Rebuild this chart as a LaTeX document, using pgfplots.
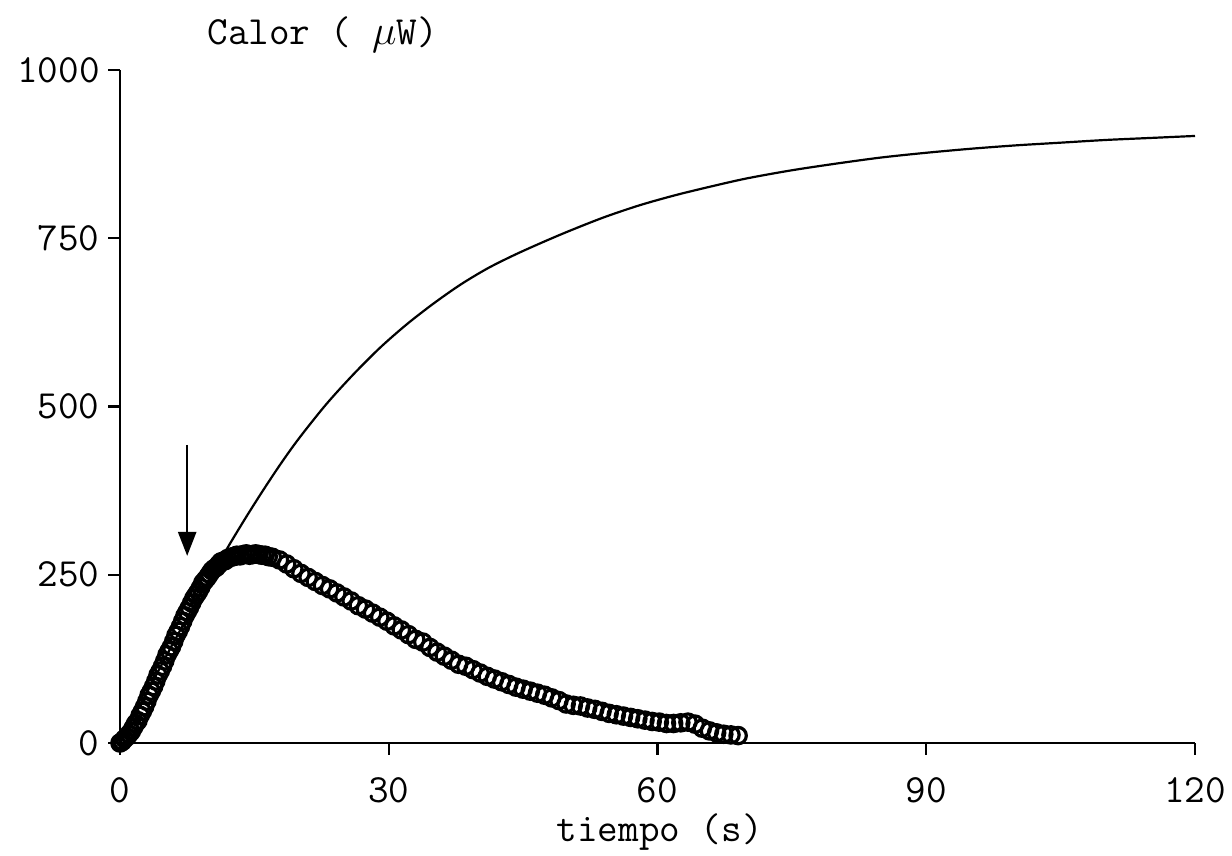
\documentclass[border=0pt]{standalone}
\usepackage{fontspec}
\usepackage{pgfplots}
\pgfplotsset{compat=1.18}
\usetikzlibrary{arrows.meta}

\newcommand\plotfont{\fontsize{20}{24}\selectfont\ttfamily}

% fitted heat curve
\pgfplotstableread{
t v
0 0
2 50
4 100
6 150
8 198
10 244
12 290
14 334
16 376
18 416
20 453
23 503
26 547
29 587
32 622
35 653
38 681
41 705
44 725
47 743
50 760
54 781
58 799
62 814
66 827
70 839
75 851
80 861
85 870
90 877
95 883
100 888
105 892
110 896
115 899
120 902
}\heatcurve

% measured heat flow
\pgfplotstableread{
t v
0.00 0
0.25 2
0.50 6
0.75 9
1.00 13
1.25 17
1.50 23
1.75 29
2.00 33
2.25 41
2.50 47
2.75 54
3.00 62
3.25 71
3.50 77
3.75 84
4.00 92
4.25 101
4.50 107
4.75 114
5.00 122
5.25 131
5.50 137
5.75 143
6.00 151
6.25 160
6.50 166
6.75 173
7.00 181
7.25 189
7.50 195
7.75 201
8.00 208
8.25 215
8.50 220
8.75 225
9.00 231
9.25 238
9.50 242
9.75 246
10.00 251
10.25 256
10.50 259
10.75 261
11.00 265
11.25 269
11.50 270
11.75 271
12.00 274
12.35 276
12.70 277
13.05 279
13.40 278
13.75 280
14.10 281
14.45 279
14.80 280
15.15 281
15.50 280
15.85 279
16.20 279
16.55 277
17.0 276
17.8 272
18.6 266
19.4 259
20.2 252
21.0 246
21.8 240
22.6 234
23.4 229
24.2 223
25.0 217
25.8 211
26.6 204
27.4 199
28.2 193
29.0 187
29.8 181
30.6 174
31.4 168
32.2 161
33.0 154
33.8 150
34.6 142
35.4 135
36.2 129
37.0 123
37.8 117
38.6 114
39.4 109
40.2 104
41.0 99
41.8 95
42.6 91
43.4 87
44.2 83
45.0 80
45.8 77
46.6 74
47.4 71
48.2 67
49.0 63
49.8 58
50.6 56
51.4 55
52.2 52
53.0 50
53.8 47
54.6 44
55.4 42
56.2 40
57.0 38
57.8 36
58.6 34
59.4 32
60.2 31
61.0 29
61.8 29
62.6 30
63.4 31
64.2 28
65.0 22
65.8 18
66.6 15
67.4 13
68.2 12
69.0 11
}\heatpoints

\begin{document}
\begin{tikzpicture}
\useasboundingbox (-60pt,-56.5pt) rectangle (556pt,371.5pt);
\begin{axis}[
  at={(0pt,0pt)}, anchor=south west,
  scale only axis, width=537.5pt, height=336.5pt,
  xmin=0, xmax=120, ymin=0, ymax=1000,
  axis x line*=bottom, axis y line*=left,
  axis line style={line width=1.2pt, -},
  xtick={0,30,60,90,120}, ytick={0,250,500,750,1000},
  tick align=outside, major tick length=6pt,
  tick style={line width=1.1pt, black},
  ticklabel style={font=\plotfont, inner sep=0pt},
  xticklabel style={yshift=-11pt},
  yticklabel style={xshift=-4pt},
  /pgf/number format/assume math mode=true,
  /pgf/number format/1000 sep={},
  clip=false,
]
\addplot[black, line width=1.1pt, smooth] table[x=t, y=v] {\heatcurve};
\addplot[only marks, mark=o, mark size=4.1pt,
  mark options={line width=1.6pt, black}] table[x=t, y=v] {\heatpoints};
\draw[line width=1.3pt, -{Triangle[length=12pt, width=9pt]}]
  (axis cs:7.5,443) -- (axis cs:7.5,278);
\node[font=\plotfont, anchor=base west, inner sep=0pt, xshift=43.5pt, yshift=12.5pt]
  at (axis description cs:0,1) {Calor ( $\mu$W)};
\node[font=\plotfont, anchor=base, inner sep=0pt, yshift=-49pt]
  at (axis description cs:0.502,0) {tiempo (s)};
\end{axis}
\end{tikzpicture}
\end{document}
